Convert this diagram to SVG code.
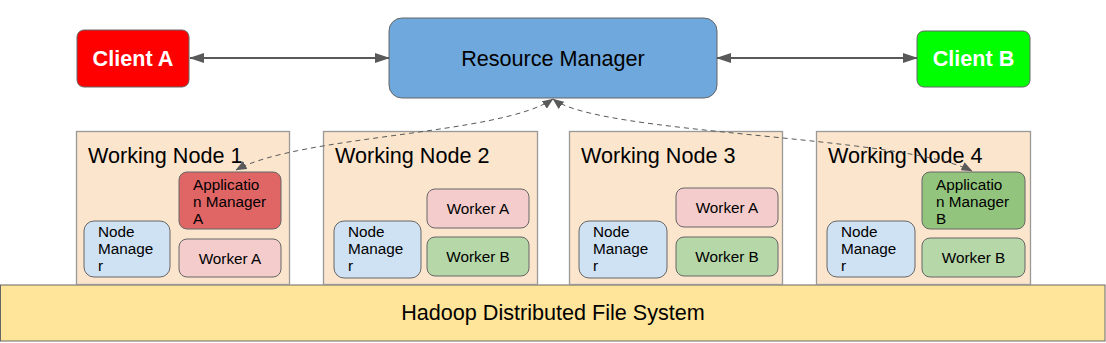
<svg xmlns="http://www.w3.org/2000/svg" width="1106" height="343" viewBox="0 0 1106 343">
<style>
text{font-family:"Liberation Sans",Arial,sans-serif;fill:#000}
.big{font-size:21.6px}
.sm{font-size:15.3px}
.cl{font-size:21.6px;font-weight:bold;fill:#fff}
.wn{fill:#fce5cd;stroke:#999;stroke-width:1.3}
.box{stroke:#666;stroke-width:1}
.solid{stroke:#595959;stroke-width:2;fill:none}
.dash{stroke:#595959;stroke-width:1;fill:none;stroke-dasharray:5 4}
</style>
<defs>
<marker id="ah" markerUnits="userSpaceOnUse" viewBox="0 0 15 10" refX="14" refY="5" markerWidth="15" markerHeight="10" orient="auto-start-reverse">
<path d="M0,0 L15,5 L0,10 Z" fill="#595959"/>
</marker>
<marker id="ad" markerUnits="userSpaceOnUse" viewBox="0 0 11 9" refX="10.5" refY="4.5" markerWidth="11" markerHeight="9" orient="auto-start-reverse">
<path d="M0,0 L11,4.5 L0,9 Z" fill="#595959"/>
</marker>
</defs>
<g id="hdfs">
<rect x="0.5" y="285" width="1104.5" height="56" fill="#ffe599" stroke="#666"/>
<text class="big" x="553" y="320" text-anchor="middle">Hadoop Distributed File System</text>
</g>
<g id="working-node-1">
<rect class="wn" x="76.5" y="131.5" width="213" height="153"/>
<text class="big" x="88" y="163">Working Node 1</text>
<rect class="box" x="179" y="172" width="102" height="57" rx="8" fill="#e06666"/>
<text class="sm" x="193"><tspan x="193" y="190">Applicatio</tspan><tspan x="193" y="207">n Manager</tspan><tspan x="193" y="224">A</tspan></text>
<rect class="box" x="179" y="239" width="102" height="38" rx="8" fill="#f4cccc"/>
<text class="sm" x="230" y="264" text-anchor="middle">Worker A</text>
<rect class="box" x="84" y="221" width="86" height="56" rx="10" fill="#cfe2f3"/>
<text class="sm"><tspan x="98" y="237">Node</tspan><tspan x="98" y="254">Manage</tspan><tspan x="98" y="271">r</tspan></text>
</g>
<g id="working-node-2">
<rect class="wn" x="323.5" y="131.5" width="214" height="153"/>
<text class="big" x="335" y="163">Working Node 2</text>
<rect class="box" x="427" y="189" width="102" height="39" rx="8" fill="#f4cccc"/>
<text class="sm" x="478" y="214" text-anchor="middle">Worker A</text>
<rect class="box" x="427" y="237" width="102" height="39" rx="8" fill="#b6d7a8"/>
<text class="sm" x="478" y="262" text-anchor="middle">Worker B</text>
<rect class="box" x="334" y="221" width="87" height="57" rx="10" fill="#cfe2f3"/>
<text class="sm"><tspan x="348" y="237">Node</tspan><tspan x="348" y="254">Manage</tspan><tspan x="348" y="271">r</tspan></text>
</g>
<g id="working-node-3">
<rect class="wn" x="569.5" y="131.5" width="213" height="153"/>
<text class="big" x="581" y="163">Working Node 3</text>
<rect class="box" x="676" y="188" width="102" height="39" rx="8" fill="#f4cccc"/>
<text class="sm" x="727" y="213" text-anchor="middle">Worker A</text>
<rect class="box" x="676" y="237" width="102" height="39" rx="8" fill="#b6d7a8"/>
<text class="sm" x="727" y="262" text-anchor="middle">Worker B</text>
<rect class="box" x="579" y="221" width="88" height="57" rx="10" fill="#cfe2f3"/>
<text class="sm"><tspan x="593" y="237">Node</tspan><tspan x="593" y="254">Manage</tspan><tspan x="593" y="271">r</tspan></text>
</g>
<g id="working-node-4">
<rect class="wn" x="816.5" y="131.5" width="214" height="153"/>
<text class="big" x="828" y="163">Working Node 4</text>
<rect class="box" x="922" y="172" width="103" height="57" rx="8" fill="#93c47d"/>
<text class="sm"><tspan x="936" y="190">Applicatio</tspan><tspan x="936" y="207">n Manager</tspan><tspan x="936" y="224">B</tspan></text>
<rect class="box" x="922" y="238" width="103" height="39" rx="8" fill="#b6d7a8"/>
<text class="sm" x="973.5" y="263" text-anchor="middle">Worker B</text>
<rect class="box" x="827" y="221" width="88" height="56" rx="10" fill="#cfe2f3"/>
<text class="sm"><tspan x="841" y="237">Node</tspan><tspan x="841" y="254">Manage</tspan><tspan x="841" y="271">r</tspan></text>
</g>
<g id="client-a">
<rect class="box" x="77" y="30" width="112" height="57" rx="7" fill="#ff0000"/>
<text class="cl" x="133" y="66" text-anchor="middle">Client A</text>
</g>
<g id="resource-manager">
<rect class="box" x="389" y="18" width="328" height="80" rx="13" fill="#6fa8dc"/>
<text class="big" x="553" y="66" text-anchor="middle">Resource Manager</text>
</g>
<g id="client-b">
<rect class="box" x="917" y="31" width="113" height="56" rx="7" fill="#00ff00"/>
<text class="cl" x="973.5" y="66" text-anchor="middle">Client B</text>
</g>
<g id="connectors">
<line class="solid" x1="190" y1="58" x2="389" y2="58" marker-start="url(#ah)" marker-end="url(#ah)"/>
<line class="solid" x1="717" y1="58" x2="917" y2="58" marker-start="url(#ah)" marker-end="url(#ah)"/>
<path class="dash" d="M553,99 C500,135 300,135 236,170" marker-start="url(#ad)" marker-end="url(#ad)"/>
<path class="dash" d="M553,99 C600,135 900,135 972,171" marker-start="url(#ad)" marker-end="url(#ad)"/>
</g>
</svg>
